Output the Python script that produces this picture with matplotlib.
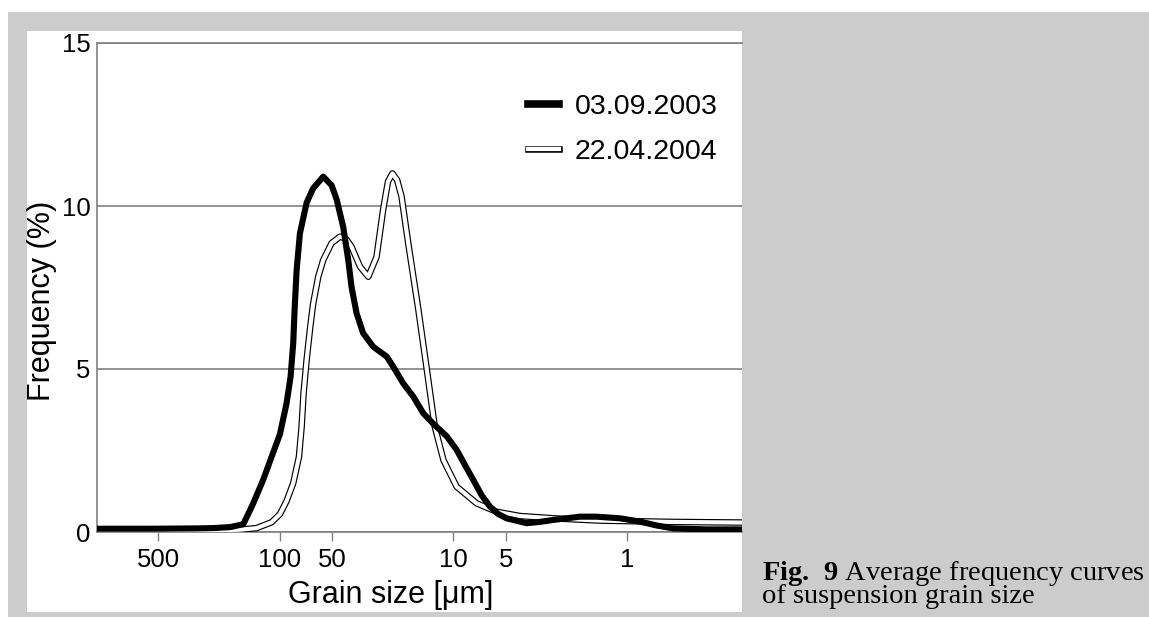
import matplotlib
matplotlib.use("Agg")
import matplotlib.pyplot as plt
import matplotlib.patheffects as pe
from matplotlib.patches import Rectangle
from matplotlib.ticker import NullLocator

plt.rcParams['font.family'] = ['Liberation Sans', 'DejaVu Sans']
plt.rcParams['mathtext.fontset'] = 'custom'
plt.rcParams['mathtext.rm'] = 'Liberation Serif'
plt.rcParams['mathtext.bf'] = 'Liberation Serif:bold'

# ---------------- data ----------------
# 03.09.2003 (grain size in micrometres, frequency in %)
size_2003 = [1127, 560, 300, 242, 193, 162, 142, 124.5, 111.3, 99.7, 91.3, 86.6, 83.6,
             82.1, 79.9, 76.5, 70.0, 64.2, 56.2, 50.3, 47.0, 43.1, 40.3, 38.6, 36.1,
             33.1, 28.9, 24.2, 22.2, 19.45, 17.0, 14.9, 13.1, 10.9, 9.58, 8.59, 7.69,
             6.88, 6.16, 5.52, 4.94, 3.79, 3.18, 2.66, 2.23, 1.87, 1.50, 1.10, 0.844,
             0.676, 0.543, 0.348, 0.218]
freq_2003 = [0.10, 0.10, 0.11, 0.12, 0.15, 0.24, 0.88, 1.60, 2.31, 3.00, 3.95, 4.76, 5.79,
             6.81, 8.04, 9.16, 10.10, 10.54, 10.90, 10.64, 10.20, 9.36, 8.34, 7.52, 6.71,
             6.10, 5.68, 5.38, 5.07, 4.56, 4.15, 3.64, 3.33, 2.93, 2.52, 2.06, 1.60,
             1.13, 0.78, 0.55, 0.42, 0.27, 0.31, 0.37, 0.42, 0.47, 0.47, 0.42, 0.32,
             0.20, 0.11, 0.08, 0.08]

# 22.04.2004
size_2004 = [1127, 560, 242, 169.5, 135.8, 111.3, 99.7, 91.3, 83.6, 77.5, 74.8, 72.9,
             70.0, 66.7, 64.2, 60.0, 56.2, 50.3, 45.0, 41.6, 38.6, 34.5, 30.9, 27.7,
             25.4, 23.8, 22.45, 21.1, 19.9, 18.2, 15.9, 14.3, 12.8, 11.4, 9.58, 7.35,
             5.64, 4.14, 2.66, 1.43, 0.567, 0.218]
freq_2004 = [0.05, 0.05, 0.05, 0.07, 0.12, 0.30, 0.55, 0.95, 1.50, 2.30, 3.23, 4.25,
             5.28, 6.30, 7.00, 7.83, 8.34, 8.86, 9.06, 9.00, 8.75, 8.14, 7.83, 8.44,
             9.88, 10.75, 11.00, 10.80, 10.30, 8.86, 6.81, 5.07, 3.23, 2.20, 1.39, 0.88,
             0.62, 0.49, 0.42, 0.35, 0.31, 0.29]

x_ticks = [500, 100, 50, 10, 5, 1]
x_tick_labels = ['500', '100', '50', '10', '5', '1']
y_ticks = [0, 5, 10, 15]
y_tick_labels = ['0', '5', '10', '15']

label_2003 = '03.09.2003'
label_2004 = '22.04.2004'

# ---------------- figure ----------------
W, H = 1149, 617
fig = plt.figure(figsize=(W / 100, H / 100), dpi=100)
fig.patch.set_facecolor('white')
fig.patches.append(Rectangle((8 / W, 0), 1, (H - 12) / H, transform=fig.transFigure,
                             facecolor='#cccccc', edgecolor='none', zorder=-10))
fig.patches.append(Rectangle((27 / W, 5 / H), 715 / W, 581 / H, transform=fig.transFigure,
                             facecolor='white', edgecolor='none', zorder=-9))

ax = fig.add_axes([97 / W, (H - 532) / H, 645 / W, 489 / H])
ax.set_facecolor('white')
ax.set_xscale('log')
ax.set_xlim(1127, 0.218)
ax.set_ylim(0, 15)

l_2004, = ax.plot(size_2004, freq_2004, color='white', lw=3.0, zorder=3,
                  solid_joinstyle='round', label=label_2004,
                  path_effects=[pe.Stroke(linewidth=4.7, foreground='black'), pe.Normal()])
l_2003, = ax.plot(size_2003, freq_2003, color='black', lw=4.4, zorder=4,
                  solid_joinstyle='round', label=label_2003)

ax.set_xticks(x_ticks)
ax.set_xticklabels(x_tick_labels)
ax.xaxis.set_minor_locator(NullLocator())
ax.set_yticks(y_ticks)
ax.set_yticklabels(y_tick_labels)

gray = '#808080'
ax.tick_params(axis='x', direction='out', length=6.5, width=1, color=gray,
               labelsize=18.5, pad=5)
ax.tick_params(axis='y', length=0, labelsize=18.5, pad=4.5)
ax.yaxis.grid(True, color=gray, lw=1.2)
ax.set_axisbelow(True)
for s in ['left', 'bottom', 'top']:
    ax.spines[s].set_color(gray)
    ax.spines[s].set_linewidth(1.2)
ax.spines['right'].set_visible(False)

ax.set_xlabel('Grain size [μm]', fontsize=22, va='baseline')
ax.xaxis.set_label_coords((390.5 - 97) / 645, (532 - 603.3) / 489)
ax.set_ylabel('Frequency (%)', fontsize=22, va='baseline')
ax.yaxis.set_label_coords((50 - 97) / 645, (532 - 301) / 489)

leg = ax.legend(handles=[l_2003, l_2004], loc='upper left',
                bbox_to_anchor=(528 / W, 1 - 94 / H), bbox_transform=fig.transFigure,
                frameon=False, fontsize=20.5, handlelength=1.08, handletextpad=0.55,
                labelspacing=0.67, borderaxespad=0, borderpad=0)
leg.get_lines()[0].set_linewidth(5.5)

# caption: one two-line text; the bold "Fig. 9" is mathtext bold serif
caption = (r'$\mathbf{Fig.\ 9}$ Average frequency curves'
           '\nof suspension grain size')
fig.text(762 / W, 1 - 603 / H, caption, fontfamily='Liberation Serif', fontsize=20.5,
         va='baseline', ha='left', linespacing=0.8)

fig.savefig('out.png', dpi=100, facecolor=fig.get_facecolor())
